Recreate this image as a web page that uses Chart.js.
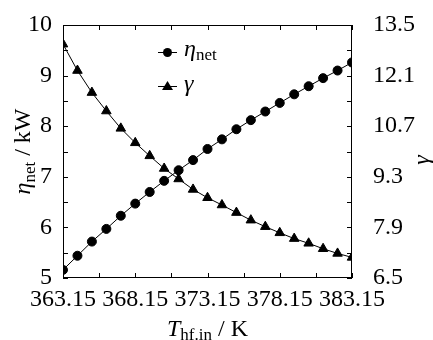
<!DOCTYPE html>
<html>
<head>
<meta charset="utf-8">
<script src="https://cdn.jsdelivr.net/npm/chart.js@4/dist/chart.umd.min.js"></script>
<style>
html,body{margin:0;padding:0;background:#fff;}
canvas{display:block;}
</style>
</head>
<body>
<canvas id="c" width="433" height="340"></canvas>
<script>
// ---- data ----
const temps = [363.15,364.15,365.15,366.15,367.15,368.15,369.15,370.15,371.15,372.15,373.15,
               374.15,375.15,376.15,377.15,378.15,379.15,380.15,381.15,382.15,383.15];
const etaNet = [5.16,5.44,5.72,5.97,6.23,6.47,6.70,6.92,7.13,7.33,7.55,
                7.74,7.94,8.12,8.29,8.46,8.63,8.79,8.95,9.10,9.26];
const gamma = [12.97,12.24,11.63,11.12,10.64,10.24,9.88,9.53,9.24,8.95,8.72,
               8.52,8.31,8.10,7.92,7.75,7.59,7.46,7.31,7.18,7.07];
const xTicks = [363.15,368.15,373.15,378.15,383.15];
const xMinor = [365.65,370.65,375.65,380.65];
const yTicks = [5,6,7,8,9,10];
const yMinor = [5.5,6.5,7.5,8.5,9.5];
const gTicks = [6.5,7.9,9.3,10.7,12.1,13.5];
const gMinor = [7.2,8.6,10.0,11.4,12.8];

const FONT = '"Liberation Serif", "Times New Roman", serif';

function richText(ctx, parts, x, y, align) {
  let total = 0;
  parts.forEach(p => { ctx.font = (p.italic ? 'italic ' : '') + p.size + 'px ' + FONT; p.w = ctx.measureText(p.t).width; total += p.w; });
  let cx = align === 'center' ? x - total / 2 : x;
  ctx.textAlign = 'left';
  ctx.textBaseline = 'alphabetic';
  parts.forEach(p => {
    ctx.font = (p.italic ? 'italic ' : '') + p.size + 'px ' + FONT;
    ctx.fillText(p.t, cx, y + (p.dy || 0));
    cx += p.w;
  });
}

const decor = {
  id: 'decor',
  afterDraw(chart) {
    const ctx = chart.ctx;
    const a = chart.chartArea;
    const sx = chart.scales.x, sy = chart.scales.y, sg = chart.scales.y2;
    ctx.save();
    ctx.strokeStyle = '#000';
    ctx.lineWidth = 1;
    ctx.strokeRect(Math.round(a.left) + 0.5, Math.round(a.top) + 0.5,
                   Math.round(a.right - a.left) - 1, Math.round(a.bottom - a.top) - 1);
    const L = 5;
    ctx.beginPath();
    xTicks.concat(xMinor).forEach(v => {
      const px = Math.round(sx.getPixelForValue(v)) + 0.5;
      ctx.moveTo(px, a.bottom); ctx.lineTo(px, a.bottom - L);
      ctx.moveTo(px, a.top); ctx.lineTo(px, a.top + L);
    });
    yTicks.concat(yMinor).forEach(v => {
      const py = Math.round(sy.getPixelForValue(v)) + 0.5;
      ctx.moveTo(a.left, py); ctx.lineTo(a.left + L, py);
    });
    gTicks.concat(gMinor).forEach(v => {
      const py = Math.round(sg.getPixelForValue(v)) + 0.5;
      ctx.moveTo(a.right, py); ctx.lineTo(a.right - L, py);
    });
    ctx.stroke();

    ctx.fillStyle = '#000';
    // x title
    richText(ctx, [{t:'T', size:24, italic:true}, {t:'hf.in', size:17, dy:4}, {t:' / K', size:24}],
             (a.left + a.right) / 2, 336, 'center');
    // left title
    ctx.save();
    ctx.translate(30, (a.top + a.bottom) / 2);
    ctx.rotate(-Math.PI / 2);
    richText(ctx, [{t:'\u03B7', size:24, italic:true}, {t:'net', size:17, dy:5}, {t:' / kW', size:24}], 0, 0, 'center');
    ctx.restore();
    // right title
    ctx.save();
    ctx.translate(429, 160);
    ctx.rotate(-Math.PI / 2);
    richText(ctx, [{t:'\u03B3', size:24, italic:true}], 0, 0, 'center');
    ctx.restore();

    // legend
    ctx.beginPath();
    ctx.moveTo(158, 52.5); ctx.lineTo(177, 52.5);
    ctx.moveTo(158, 86.5); ctx.lineTo(177, 86.5);
    ctx.stroke();
    ctx.beginPath();
    ctx.arc(167.5, 52.5, 4.5, 0, Math.PI * 2);
    ctx.fill();
    ctx.beginPath();
    ctx.moveTo(167.5, 81); ctx.lineTo(173, 90); ctx.lineTo(162, 90); ctx.closePath();
    ctx.fill();
    richText(ctx, [{t:'\u03B7', size:24, italic:true}, {t:'net', size:17, dy:4}], 184, 56, 'left');
    richText(ctx, [{t:'\u03B3', size:24, italic:true}], 184, 91, 'left');
    ctx.restore();
  }
};

function setTicks(arr) {
  return function(scale) { scale.ticks = arr.map(v => ({value: v})); };
}
const noGrid = {display: false, drawTicks: false, tickLength: 0};

new Chart(document.getElementById('c'), {
  type: 'line',
  data: {
    labels: temps,
    datasets: [
      {
        label: 'eta',
        data: temps.map((t, i) => ({x: t, y: etaNet[i]})),
        yAxisID: 'y',
        borderColor: '#000', backgroundColor: '#000', borderWidth: 1,
        pointStyle: 'circle', pointRadius: 4.5, pointHoverRadius: 4.5,
        tension: 0, clip: 0
      },
      {
        label: 'gamma',
        data: temps.map((t, i) => ({x: t, y: gamma[i]})),
        yAxisID: 'y2',
        borderColor: '#000', backgroundColor: '#000', borderWidth: 1,
        pointStyle: 'triangle', pointRadius: 5.5, pointHoverRadius: 5.5,
        tension: 0, clip: 0
      }
    ]
  },
  options: {
    responsive: false,
    animation: false,
    devicePixelRatio: 1,
    events: [],
    layout: {padding: {top: 25, left: 0, right: 0, bottom: 0}},
    plugins: {legend: {display: false}, tooltip: {enabled: false}},
    scales: {
      x: {
        type: 'linear', min: 363.15, max: 383.15,
        afterBuildTicks: setTicks(xTicks),
        afterFit(s) { s.height = 62; s.paddingLeft = 0; s.paddingRight = 0; },
        grid: noGrid, border: {display: false},
        ticks: {color: '#000', font: {family: FONT, size: 24}, padding: 7, maxRotation: 0, autoSkip: false,
                callback: v => Number(v).toFixed(2)}
      },
      y: {
        type: 'linear', position: 'left', min: 5, max: 10,
        afterBuildTicks: setTicks(yTicks),
        afterFit(s) { s.width = 63; s.paddingTop = 0; s.paddingBottom = 0; },
        grid: noGrid, border: {display: false},
        ticks: {color: '#000', font: {family: FONT, size: 24}, padding: 11, autoSkip: false,
                callback: v => String(v)}
      },
      y2: {
        type: 'linear', position: 'right', min: 6.5, max: 13.5,
        afterBuildTicks: setTicks(gTicks),
        afterFit(s) { s.width = 81; s.paddingTop = 0; s.paddingBottom = 0; },
        grid: noGrid, border: {display: false},
        ticks: {color: '#000', font: {family: FONT, size: 24}, padding: 21, autoSkip: false,
                callback: v => Number(v).toFixed(1)}
      }
    }
  },
  plugins: [decor]
});
</script>
</body>
</html>
